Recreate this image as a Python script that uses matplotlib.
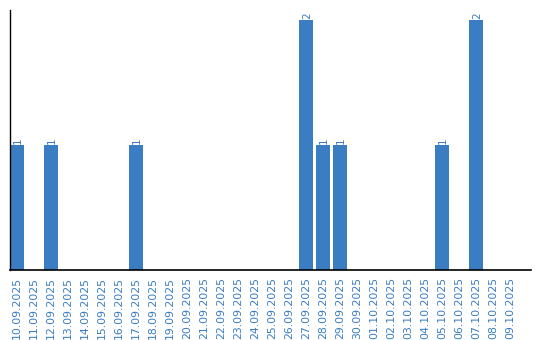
import matplotlib
matplotlib.use("Agg")
import matplotlib.pyplot as plt
import numpy as np

dates = ["10.09.2025", "11.09.2025", "12.09.2025", "13.09.2025", "14.09.2025",
         "15.09.2025", "16.09.2025", "17.09.2025", "18.09.2025", "19.09.2025",
         "20.09.2025", "21.09.2025", "22.09.2025", "23.09.2025", "24.09.2025",
         "25.09.2025", "26.09.2025", "27.09.2025", "28.09.2025", "29.09.2025",
         "30.09.2025", "01.10.2025", "02.10.2025", "03.10.2025", "04.10.2025",
         "05.10.2025", "06.10.2025", "07.10.2025", "08.10.2025", "09.10.2025"]
counts = [1, 0, 1, 0, 0, 0, 0, 1, 0, 0,
          0, 0, 0, 0, 0, 0, 0, 2, 1, 1,
          0, 0, 0, 0, 0, 1, 0, 2, 0, 0]

blue = "#3a7dc2"
W, H = 540, 340

fig = plt.figure(figsize=(W / 100, H / 100), dpi=100)
ax = fig.add_axes([10 / W, 70 / H, 521 / W, 260 / H])

x = np.arange(len(dates))
bw = 14 / 17
ax.bar(x, counts, width=bw, color=blue)

# value labels on non-empty days
for xi, c in zip(x, counts):
    if c > 0:
        ax.text(xi + 0.05, c + 0.012, str(c), rotation=90, ha="center", va="bottom",
                color=blue, fontsize=7.5)

ax.set_xlim(-bw / 2, -bw / 2 + 521 / 17)
ax.set_ylim(0, 2 * 260 / 250)
ax.set_xticks(x)
ax.set_xticklabels(dates, rotation=90, color=blue, fontsize=7.8)
ax.tick_params(axis="x", length=0, pad=5)
ax.set_yticks([])
ax.spines["top"].set_visible(False)
ax.spines["right"].set_visible(False)
ax.spines["left"].set_linewidth(1)
ax.spines["bottom"].set_linewidth(1.2)

fig.savefig("out.png", dpi=100)
